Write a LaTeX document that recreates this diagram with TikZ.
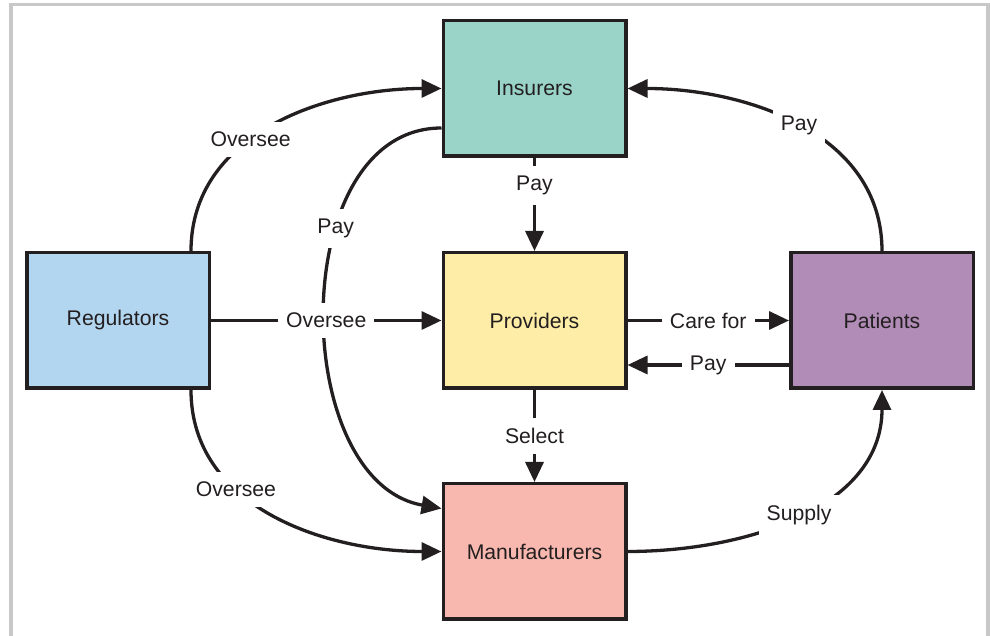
\documentclass[tikz,border=0pt]{standalone}
\usepackage{fontspec}
\setmainfont{Liberation Sans}
\usetikzlibrary{calc,arrows.meta}

\definecolor{inkline}{HTML}{231F20}
\definecolor{framegray}{HTML}{C8C8C8}
\definecolor{insurerfill}{HTML}{9AD4C8}
\definecolor{providerfill}{HTML}{FEEDA6}
\definecolor{regulatorfill}{HTML}{B2D6EF}
\definecolor{patientfill}{HTML}{B18CB7}
\definecolor{makerfill}{HTML}{F8B8AF}

\tikzset{
	actor/.style={draw=inkline, line width=1.75pt, minimum width=91.25pt, minimum height=67.75pt, inner sep=0pt, text=inkline, font=\fontsize{10.6}{12.7}\selectfont},
	flow/.style={draw=inkline, line width=1.65pt, -{Triangle[length=10pt,width=9pt]}},
	tag/.style={fill=white, inner xsep=4pt, inner ysep=5pt, text=inkline, font=\fontsize{10.6}{12.7}\selectfont},
}

\begin{document}
\begin{tikzpicture}[x=0.5pt, y=0.5pt]
			%%%%% START %%%%%
			
			\useasboundingbox (0, 0) rectangle (990, 636);
			\draw[framegray, line width=1.6pt] (11, 0) -- (11, 631.3) -- (988, 631.3) -- (988, 0);
			
			\node[actor, fill=insurerfill] (ins) at (534.5, 547.5) {Insurers};
			\node[actor, fill=providerfill] (prov) at (534.5, 315.5) {Providers};
			\node[actor, fill=regulatorfill] (reg) at (118, 315.5) {Regulators};
			\node[actor, fill=patientfill] (pat) at (882, 315.5) {Patients};
			\node[actor, fill=makerfill] (man) at (534.5, 84.5) {Manufacturers};
			
			\draw[flow] ($(reg.north)+(73, 0)$) to[out=90, in=180] node[tag, pos=0.42] {Oversee} (ins.west);
			\draw[flow] ($(reg.south)+(73, 0)$) to[out=-90, in=180] node[tag, pos=0.36] {Oversee} (man.west);
			\draw[flow] ($(ins.west)+(0, -39.5)$) to[out=180, in=170, looseness=1.05] node[tag, pos=0.35] {Pay} ($(man.west)+(0, 43)$);
			
			\draw[flow] (reg) -- node[tag, pos=0.5] {Oversee} (prov);
			\draw[flow] (ins) -- node[tag, pos=0.3] {Pay} (prov);
			\draw[flow] (prov) -- node[tag, pos=0.5] {Select} (man);
			
			\draw[flow] (prov) -- node[tag, pos=0.5] {Care for} (pat);
			\draw[flow] ($(pat.west)+(0, -44.5)$) -- node[tag, pos=0.5] {Pay} ($(prov.east)+(0, -44.5)$);
			
			\draw[flow] (pat.north) to[out=90, in=0] node[tag, pos=0.5] {Pay} (ins.east);
			\draw[flow] (man.east) to[out=0, in=-90] node[tag, pos=0.5] {Supply} (pat.south);
			
			%%%%% END %%%%%
\end{tikzpicture}
\end{document}
